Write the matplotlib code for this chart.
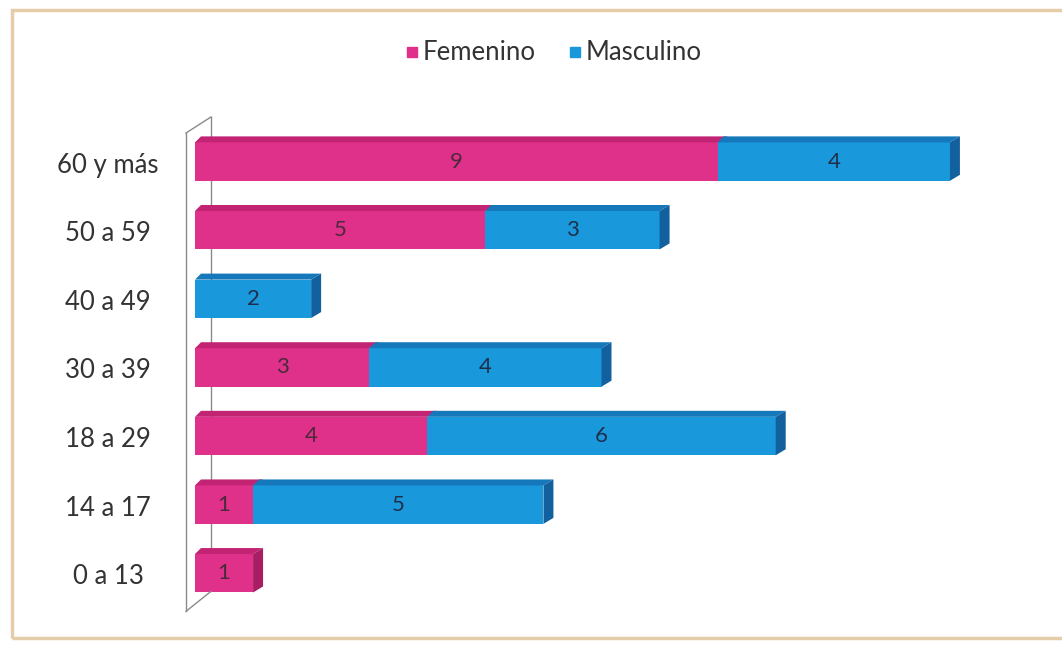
import matplotlib
matplotlib.use("Agg")
import matplotlib.pyplot as plt
from matplotlib.patches import Polygon, Rectangle
from matplotlib.lines import Line2D
import matplotlib.transforms as mtransforms

# ---- data ----
categories = ["0 a 13", "14 a 17", "18 a 29", "30 a 39", "40 a 49", "50 a 59", "60 y más"]
femenino = [1, 1, 4, 3, 0, 5, 9]
masculino = [0, 5, 6, 4, 2, 3, 4]
series_names = ["Femenino", "Masculino"]

# ---- style ----
col_f = "#E0318A"
col_m = "#1A98DC"
col_f_dark = "#A81E62"
col_m_dark = "#12609E"
col_f_top = "#C22473"
col_m_top = "#1578BA"
FONT = "Lato"

W, H = 1062, 646
fig = plt.figure(figsize=(W / 100, H / 100), dpi=100)
fig.patch.set_facecolor("white")

# outer frame (cropped on the right)
fig.patches.append(Rectangle((12 / W, 8 / H), 1.2, (636 - 8) / H, transform=fig.transFigure,
                             fill=False, edgecolor="#E6CDAA", linewidth=2.5, zorder=0))

ax_l, ax_r, ax_t, ax_b = 195, 1008, 117, 611
ax = fig.add_axes([ax_l / W, 1 - ax_b / H, (ax_r - ax_l) / W, (ax_b - ax_t) / H])
ax.set_xlim(0, 14)
ax.set_ylim(-0.55, 6.65)
ax.axis("off")

bar_h = 0.56
ddx = 10 / 58.1  # depth in data units
ddy = 6 / 68.6

# wall
wall_col = "#8A8A8A"
xb, xf = 0.275, -0.155
ax.add_line(Line2D([xb, xb], [-0.264, 6.65], color=wall_col, lw=1.0, zorder=1, clip_on=False))
ax.add_line(Line2D([xf, xf], [-0.555, 6.417], color=wall_col, lw=1.0, zorder=5, clip_on=False))
ax.add_line(Line2D([xf, xb], [6.417, 6.65], color=wall_col, lw=1.0, zorder=5, clip_on=False))
ax.add_line(Line2D([xf, xb], [-0.555, -0.264], color=wall_col, lw=1.0, zorder=5, clip_on=False))

ys = list(range(len(categories)))
ax.barh(ys, femenino, height=bar_h, color=col_f, edgecolor="none", zorder=3)
ax.barh(ys, masculino, left=femenino, height=bar_h, color=col_m, edgecolor="none", zorder=3)

for y, f, m in zip(ys, femenino, masculino):
    top = y + bar_h / 2
    bot = y - bar_h / 2
    # top faces
    segs = []
    if f > 0:
        segs.append((0, f, col_f_top))
    if m > 0:
        segs.append((f, f + m, col_m_top))
    for a, b, c in segs:
        ax.add_patch(Polygon([(a, top), (b, top), (b + ddx, top + ddy), (a + ddx * 0.6, top + ddy)],
                             closed=True, facecolor=c, edgecolor="none", zorder=3))
    # right side face
    tot = f + m
    dark = col_m_dark if m > 0 else col_f_dark
    ax.add_patch(Polygon([(tot, bot), (tot, top), (tot + ddx, top + ddy), (tot + ddx, bot + ddy)],
                         closed=True, facecolor=dark, edgecolor="none", zorder=3))
    # value labels
    if f > 0:
        ax.text(f / 2, y, str(f), ha="center", va="center", fontsize=16, color="#4a2a3a",
                family=FONT, zorder=6)
    if m > 0:
        ax.text(f + m / 2, y, str(m), ha="center", va="center", fontsize=16, color="#1f2f4a",
                family=FONT, zorder=6)

# category labels
trans = mtransforms.blended_transform_factory(ax.transAxes, ax.transData)
for y, c in zip(ys, categories):
    ax.text(-0.107, y - 0.05, c, transform=trans, ha="center", va="center", fontsize=18.5,
            color="#333333", family=FONT)

# legend
handles = [Line2D([], [], marker="s", linestyle="none", markersize=7, color=col_f),
           Line2D([], [], marker="s", linestyle="none", markersize=7, color=col_m)]
fig.legend(handles, series_names, loc="center", bbox_to_anchor=(0.52, 1 - 53 / H), ncol=2,
           frameon=False, prop={"family": FONT, "size": 18.5}, handletextpad=0.05,
           columnspacing=1.2, handlelength=0.7, labelcolor="#333333")

fig.savefig("out.png", dpi=100, facecolor="white")
